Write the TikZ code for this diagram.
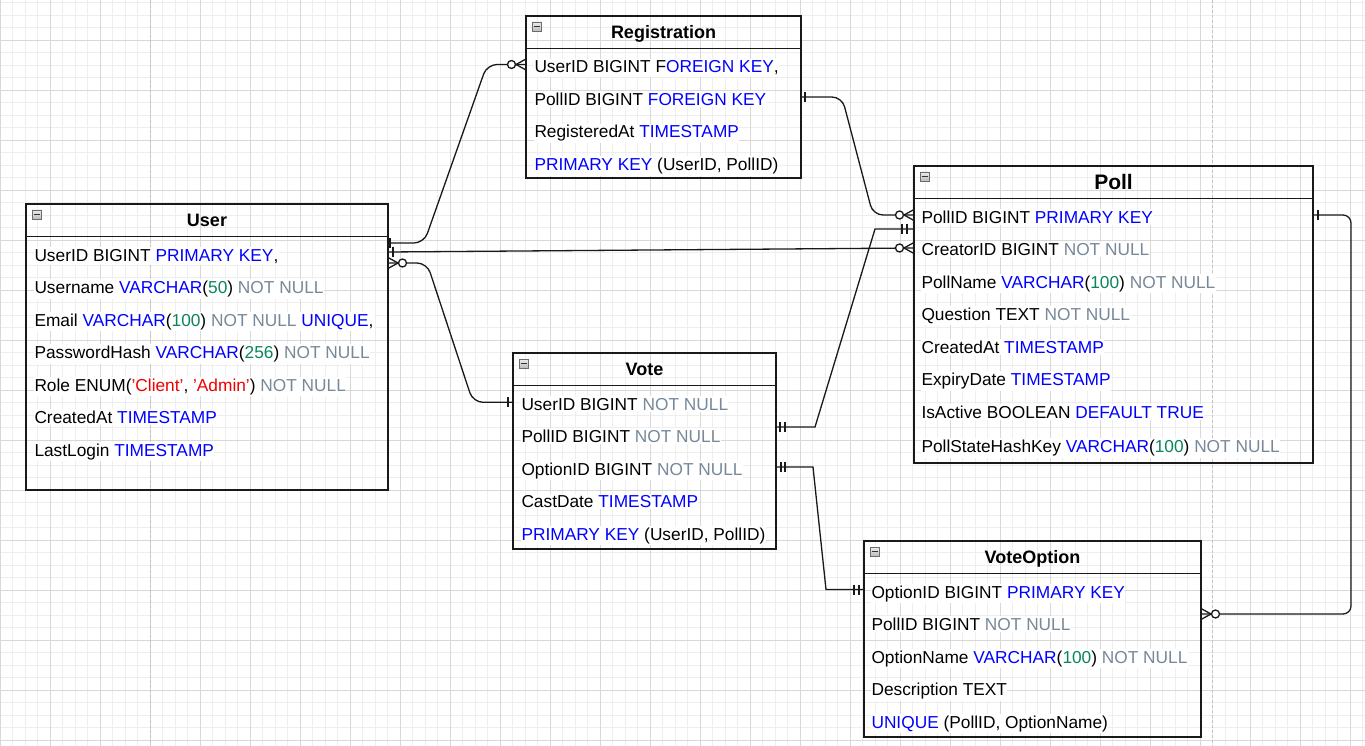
\documentclass[tikz,border=0pt]{standalone}
\usepackage{fontspec}
\setmainfont{Liberation Sans}
\usetikzlibrary{calc}

\definecolor{sqlblue}{HTML}{0000FF}
\definecolor{sqlgray}{HTML}{778899}
\definecolor{sqlgreen}{HTML}{098658}
\definecolor{sqlred}{HTML}{EE0000}
\definecolor{gridminor}{HTML}{EEEEEE}
\definecolor{gridmajor}{HTML}{D8D8D8}
\definecolor{pagebreak}{HTML}{C4C4C4}

% SQL token colouring
\newcommand\sqlkw[1]{\textcolor{sqlblue}{#1}}
\newcommand\sqlnn[1]{\textcolor{sqlgray}{#1}}
\newcommand\sqlnum[1]{\textcolor{sqlgreen}{#1}}
\newcommand\sqlstr[1]{\textcolor{sqlred}{#1}}

% entity box: name, x, y, width, height, title, title size
\newcommand\ertable[7]{%
  \node[tablebox, minimum width=#4pt, minimum height=#5pt] (#1) at (#2,#3) {};
  \draw[tableline] ($(#1.north west)+(0,32.5)$) -- ($(#1.north east)+(0,32.5)$);
  \draw[iconbox] ($(#1.north west)+(6,6)$) rectangle ++(9.5,9.5);
  \draw[icondash] ($(#1.north west)+(8,10.75)$) -- ++(5.5,0);
  \node[anchor=base, inner sep=0, font=\fontsize{#7}{#7}\selectfont\bfseries]
    (#1-title) at ($(#1.north)+(0,16.25+0.36*#7)$) {#6};
}

% crow's foot with circle (zero or many); #2 = outward x-direction
\newcommand\crowzero[2]{%
  \draw[connline] ($(#1)+(0,-5.5)$) -- ($(#1)+(#2*10,0)$) -- ($(#1)+(0,5.5)$);
  \draw[connline, fill=white] ($(#1)+(#2*14.5,0)$) circle (4pt);
}
% single bar at a distance #3 from the border
\newcommand\tickone[3]{%
  \draw[connline] ($(#1)+(#2*#3,-5)$) -- ($(#1)+(#2*#3,5)$);
}

\begin{document}
\begin{tikzpicture}[x=1pt, y=-1pt,
  tablebox/.style={draw=black!90, line width=1.3pt, inner sep=0pt, outer sep=0pt, anchor=north west},
  tableline/.style={draw=black!90, line width=1.3pt},
  iconbox/.style={draw=gray!85!black, line width=0.6pt, top color=gray!15, bottom color=gray!55},
  icondash/.style={draw=black!80, line width=1.1pt},
  rowtext/.style={anchor=base west, fill=white, inner xsep=0.3pt, inner ysep=1.5pt,
                  font=\fontsize{17.3}{20}\selectfont},
  connline/.style={draw=black!90, line width=1.3pt},
  minorline/.style={draw=gridminor, line width=0.7pt},
  majorline/.style={draw=gridmajor, line width=0.8pt},
]
\useasboundingbox (0,0) rectangle (1365,746);
\fill[white] (0,0) rectangle (1365,746);

% background grid
\foreach \i in {0,...,109} \draw[minorline] (\i*12.5,0) -- (\i*12.5,746);
\foreach \j in {0,...,59} \draw[minorline] (0,2.5+\j*12.5) -- (1365,2.5+\j*12.5);
\foreach \i in {0,...,27} \draw[majorline] (\i*50,0) -- (\i*50,746);
\foreach \j in {0,...,14} \draw[majorline] (0,40+\j*50) -- (1365,40+\j*50);
\draw[pagebreak, line width=0.9pt, dash pattern=on 3pt off 2pt] (150,0) -- (150,746);
\draw[pagebreak, line width=0.9pt, dash pattern=on 3pt off 2pt] (1212.5,0) -- (1212.5,746);

% entities
\ertable{user}{26}{204}{362}{286}{User}{18}
\ertable{reg}{526}{16}{275}{162}{Registration}{18}
\ertable{poll}{914}{166}{399}{297}{Poll}{21}
\ertable{vote}{513}{353}{263}{196}{Vote}{18}
\ertable{opt}{864}{541}{337}{196}{VoteOption}{18}

% User columns
\node[rowtext] (user-r1) at (34,261)   {UserID BIGINT \sqlkw{PRIMARY KEY},};
\node[rowtext] (user-r2) at (34,293.5) {Username \sqlkw{VARCHAR}(\sqlnum{50}) \sqlnn{NOT NULL}};
\node[rowtext] (user-r3) at (34,326)   {Email \sqlkw{VARCHAR}(\sqlnum{100}) \sqlnn{NOT NULL} \sqlkw{UNIQUE},};
\node[rowtext] (user-r4) at (34,358.5) {PasswordHash \sqlkw{VARCHAR}(\sqlnum{256}) \sqlnn{NOT NULL}};
\node[rowtext] (user-r5) at (34,391)   {Role ENUM(\sqlstr{'Client'}, \sqlstr{'Admin'}) \sqlnn{NOT NULL}};
\node[rowtext] (user-r6) at (34,423.5) {CreatedAt \sqlkw{TIMESTAMP}};
\node[rowtext] (user-r7) at (34,456)   {LastLogin \sqlkw{TIMESTAMP}};

% Registration columns
\node[rowtext] (reg-r1) at (534,73)    {UserID BIGINT F\sqlkw{OREIGN KEY},};
\node[rowtext] (reg-r2) at (534,105.5) {PollID BIGINT \sqlkw{FOREIGN KEY}};
\node[rowtext] (reg-r3) at (534,138)   {RegisteredAt \sqlkw{TIMESTAMP}};
\node[rowtext] (reg-r4) at (534,170.5) {\sqlkw{PRIMARY KEY} (UserID, PollID)};

% Poll columns
\node[rowtext] (poll-r1) at (921,223)   {PollID BIGINT \sqlkw{PRIMARY KEY}};
\node[rowtext] (poll-r2) at (921,255.5) {CreatorID BIGINT \sqlnn{NOT NULL}};
\node[rowtext] (poll-r3) at (921,288)   {PollName \sqlkw{VARCHAR}(\sqlnum{100}) \sqlnn{NOT NULL}};
\node[rowtext] (poll-r4) at (921,320.5) {Question TEXT \sqlnn{NOT NULL}};
\node[rowtext] (poll-r5) at (921,353)   {CreatedAt \sqlkw{TIMESTAMP}};
\node[rowtext] (poll-r6) at (921,385.5) {ExpiryDate \sqlkw{TIMESTAMP}};
\node[rowtext] (poll-r7) at (921,418)   {IsActive BOOLEAN \sqlkw{DEFAULT TRUE}};
\node[rowtext] (poll-r8) at (921,452.5) {PollStateHashKey \sqlkw{VARCHAR}(\sqlnum{100}) \sqlnn{NOT NULL}};

% Vote columns
\node[rowtext] (vote-r1) at (521,410)   {UserID BIGINT \sqlnn{NOT NULL}};
\node[rowtext] (vote-r2) at (521,442.5) {PollID BIGINT \sqlnn{NOT NULL}};
\node[rowtext] (vote-r3) at (521,475)   {OptionID BIGINT \sqlnn{NOT NULL}};
\node[rowtext] (vote-r4) at (521,507.5) {CastDate \sqlkw{TIMESTAMP}};
\node[rowtext] (vote-r5) at (521,540)   {\sqlkw{PRIMARY KEY} (UserID, PollID)};

% VoteOption columns
\node[rowtext] (opt-r1) at (871,598)   {OptionID BIGINT \sqlkw{PRIMARY KEY}};
\node[rowtext] (opt-r2) at (871,630.5) {PollID BIGINT \sqlnn{NOT NULL}};
\node[rowtext] (opt-r3) at (871,663)   {OptionName \sqlkw{VARCHAR}(\sqlnum{100}) \sqlnn{NOT NULL}};
\node[rowtext] (opt-r4) at (871,695.5) {Description TEXT};
\node[rowtext] (opt-r5) at (871,728)   {\sqlkw{UNIQUE} (PollID, OptionName)};

% relationship ports on the entity borders
\coordinate (ua) at ($(user.north east)+(0,39)$);
\coordinate (ub) at ($(user.north east)+(0,48)$);
\coordinate (uc) at ($(user.north east)+(0,59)$);
\coordinate (ra) at ($(reg.north west)+(0,48.5)$);
\coordinate (rb) at ($(reg.north east)+(0,81)$);
\coordinate (pa) at ($(poll.north west)+(0,49)$);
\coordinate (pb) at ($(poll.north west)+(0,63)$);
\coordinate (pc) at ($(poll.north west)+(0,82)$);
\coordinate (pd) at ($(poll.north east)+(0,49)$);
\coordinate (va) at ($(vote.north west)+(0,49.3)$);
\coordinate (vb) at ($(vote.north east)+(0,74)$);
\coordinate (vc) at ($(vote.north east)+(0,114)$);
\coordinate (oa) at ($(opt.north west)+(0,48.5)$);
\coordinate (ob) at ($(opt.north east)+(0,73)$);

% relationships
\draw[connline, rounded corners=10pt] (ua) -- ++(36,0) -- ($(ra)+(-39,0)$) -- (ra);
\draw[connline] (ub) -- (pc);
\draw[connline, rounded corners=10pt] (uc) -- ++(39,0) -- ($(va)+(-40,0)$) -- (va);
\draw[connline, rounded corners=10pt] (rb) -- ++(41,0) -- ($(pa)+(-41,0)$) -- (pa);
\draw[connline] (vb) -- ++(39,0) -- ($(pb)+(-39,0)$) -- (pb);
\draw[connline] (vc) -- ++(37,0) -- ($(oa)+(-38,0)$) -- (oa);
\draw[connline, rounded corners=8pt] (pd) -- ++(38,0) |- (ob);

% cardinality marks
\tickone{ua}{1}{2}  \crowzero{ra}{-1}
\tickone{ub}{1}{5}  \crowzero{pc}{-1}
\crowzero{uc}{1}    \tickone{va}{-1}{5}
\tickone{rb}{1}{4}  \crowzero{pa}{-1}
\tickone{vb}{1}{4}  \tickone{vb}{1}{9}
\tickone{pb}{-1}{7} \tickone{pb}{-1}{12}
\tickone{vc}{1}{5}  \tickone{vc}{1}{9}
\tickone{oa}{-1}{5} \tickone{oa}{-1}{10}
\tickone{pd}{1}{5}  \crowzero{ob}{1}
\end{tikzpicture}
\end{document}
